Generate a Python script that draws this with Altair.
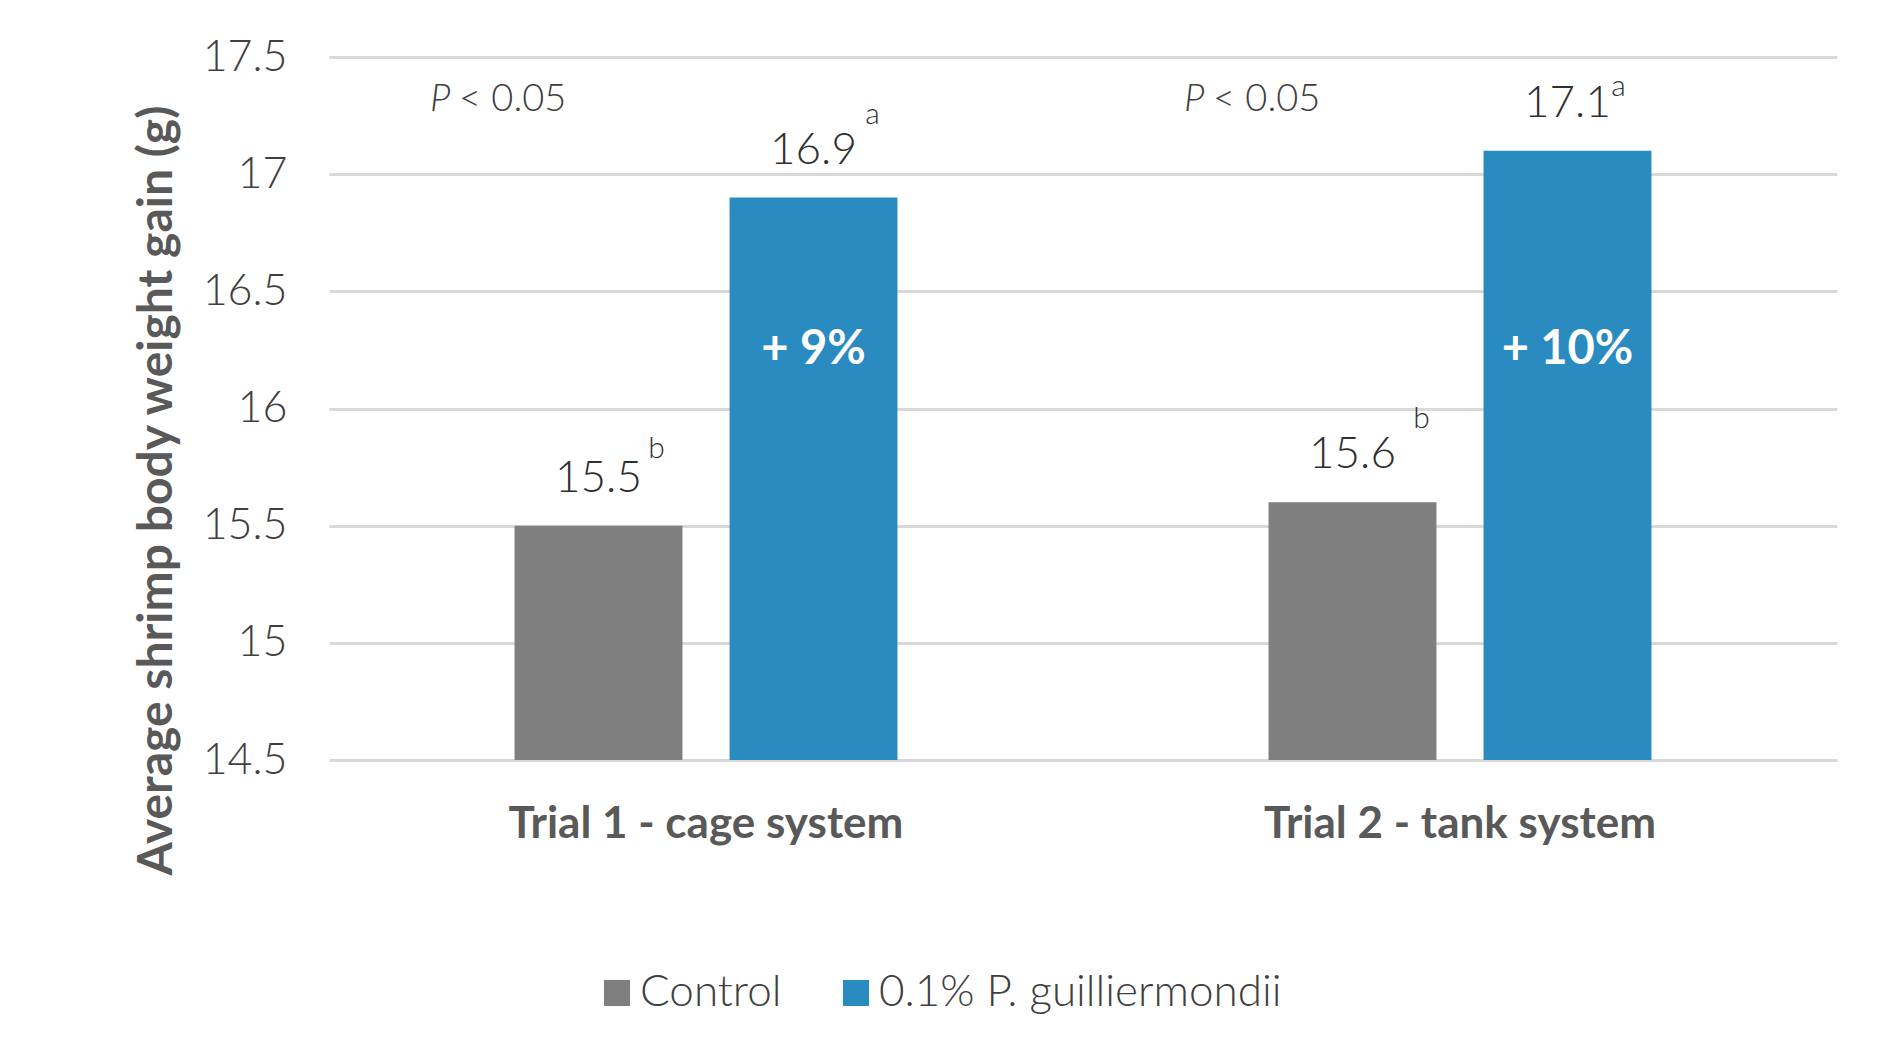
import altair as alt
import pandas as pd

trials = ["Trial 1 - cage system", "Trial 2 - tank system"]
groups = ["Control", "0.1% P. guilliermondii"]
control_values = [15.5, 15.6]
treated_values = [16.9, 17.1]
control_letters = ["b", "b"]
treated_letters = ["a", "a"]
increase_labels = ["+ 9%", "+ 10%"]
p_texts = ["< 0.05", "< 0.05"]
y_ticks = [14.5, 15, 15.5, 16, 16.5, 17, 17.5]
colors = ["#7f7f7f", "#2a8bc0"]

rows = []
for i, t in enumerate(trials):
    rows.append(dict(trial=t, group=groups[0], value=control_values[i],
                     letter=control_letters[i], pct="", idx=2 * i))
    rows.append(dict(trial=t, group=groups[1], value=treated_values[i],
                     letter=treated_letters[i], pct=increase_labels[i], idx=2 * i + 1))
df = pd.DataFrame(rows)
df["label"] = df["value"].map(lambda v: f"{v:g}")
pdf = pd.DataFrame({"trial": trials, "p": ["P", "P"], "rest": p_texts})

FONT = "Lato"

x_enc = alt.X("trial:N", sort=trials,
              scale=alt.Scale(type="band", paddingInner=0, paddingOuter=0),
              axis=alt.Axis(title=None, ticks=False, domain=False, labelAngle=0,
                            labelFont=FONT, labelFontSize=44, labelFontWeight="bold",
                            labelColor="#595959", labelPadding=64, labelBaseline="middle",
                            labelLimit=1000))
xo_enc = alt.XOffset("group:N", sort=groups,
                     scale=alt.Scale(paddingInner=0.219, paddingOuter=0.863))
y_enc = alt.Y("value:Q",
              scale=alt.Scale(domain=[14.5, 17.5], zero=False, nice=False),
              axis=alt.Axis(values=y_ticks, format=".3~g", ticks=False, domain=False,
                            grid=True, gridColor="#d9d9d9", gridWidth=3,
                            labelFont=FONT, labelFontSize=43, labelFontWeight=300,
                            labelColor="#404040", labelPadding=42,
                            title="Average shrimp body weight gain (g)",
                            titleFont=FONT, titleFontSize=48, titleFontWeight="bold",
                            titleColor="#595959", titleX=-172, titleY=433,
                            titleAngle=270, titleAlign="center", titleBaseline="middle"))

base = alt.Chart(df)

bars = base.mark_bar(clip=True).encode(
    x=x_enc, xOffset=xo_enc, y=y_enc,
    color=alt.Color("group:N", sort=groups,
                    scale=alt.Scale(domain=groups, range=colors),
                    legend=alt.Legend(title=None, orient="none", legendX=266, legendY=914,
                                      direction="horizontal", symbolType="square",
                                      symbolSize=680, symbolStrokeWidth=0,
                                      labelFont=FONT, labelFontSize=44, labelFontWeight=300,
                                      labelColor="#404040", labelOffset=1,
                                      columnPadding=52, labelLimit=1000))
)

value_labels = base.mark_text(font=FONT, fontSize=44, fontWeight=300, color="#303030",
                              baseline="alphabetic", dy=-34).encode(
    x=x_enc, xOffset=xo_enc, y=y_enc, text="label:N")

sup_layers = []
sup_offsets = [(58, -68), (59, -74), (69, -74), (51, -55)]
for i, (ddx, ddy) in enumerate(sup_offsets):
    sup_layers.append(
        base.transform_filter(alt.datum.idx == i).mark_text(
            font=FONT, fontSize=30, fontWeight=300, color="#303030",
            baseline="alphabetic", dx=ddx, dy=ddy).encode(
            x=x_enc, xOffset=xo_enc, y=y_enc, text="letter:N")
    )

pct_labels = base.transform_filter(alt.datum.pct != "").mark_text(
    font=FONT, fontSize=47, fontWeight="bold", color="white", baseline="middle").encode(
    x=x_enc, xOffset=xo_enc, y=alt.datum(16.25), text="pct:N")

p_italic = alt.Chart(pdf).mark_text(font=FONT, fontSize=38, fontWeight=300, fontStyle="italic",
                                    color="#404040", align="left", baseline="middle",
                                    dx=-276).encode(
    x=x_enc, y=alt.value(43), text="p:N")
p_rest = alt.Chart(pdf).mark_text(font=FONT, fontSize=38, fontWeight=300,
                                  color="#404040", align="left", baseline="middle",
                                  dx=-247).encode(
    x=x_enc, y=alt.value(43), text="rest:N")

chart = alt.layer(bars, value_labels, *sup_layers, pct_labels, p_italic, p_rest).properties(
    width=1508, height=703,
    autosize=alt.AutoSizeParams(type="none"),
    padding={"left": 321, "top": 49, "right": 45, "bottom": 296},
).configure(background="white").configure_view(stroke=None)

chart.save("out.html", embed_options={"renderer": "svg", "actions": False})
